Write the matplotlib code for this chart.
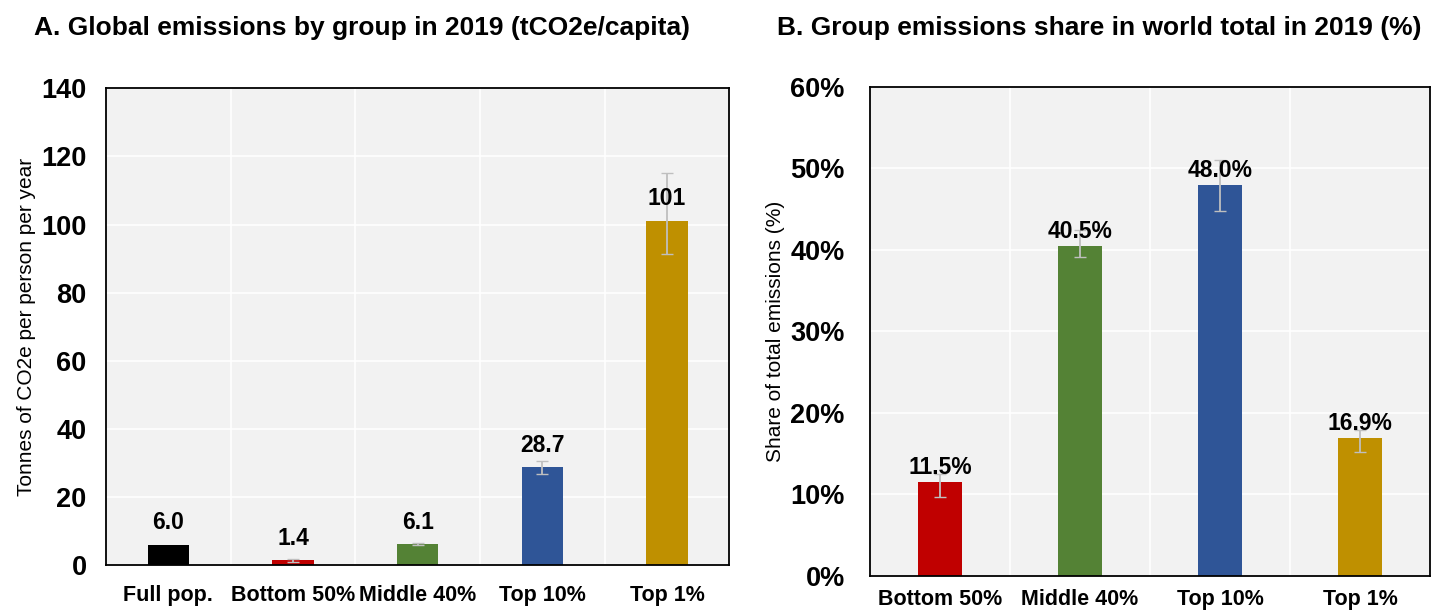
import matplotlib.pyplot as plt
import numpy as np

plt.rcParams['font.family'] = ['Liberation Sans', 'DejaVu Sans']

# Per-capita emissions (tCO2e/capita), 2019
groups_a = ['Full pop.', 'Bottom 50%', 'Middle 40%', 'Top 10%', 'Top 1%']
values_a = [6.0, 1.4, 6.1, 28.7, 101]
labels_a = ['6.0', '1.4', '6.1', '28.7', '101']
err_low_a = [0.0, 0.35, 0.2, 2.0, 9.7]
err_high_a = [0.0, 0.35, 0.45, 1.8, 14.2]

# Share of world total (%), 2019
groups_b = ['Bottom 50%', 'Middle 40%', 'Top 10%', 'Top 1%']
values_b = [11.5, 40.5, 48.0, 16.9]
labels_b = ['11.5%', '40.5%', '48.0%', '16.9%']
err_low_b = [1.9, 1.4, 3.2, 1.7]
err_high_b = [1.0, 2.0, 3.0, 1.0]

colors_a = ['#000000', '#C00000', '#548235', '#2F5597', '#BF9000']
colors_b = ['#C00000', '#548235', '#2F5597', '#BF9000']


def style_axes(ax, n):
    ax.set_facecolor('#F2F2F2')
    ax.set_xlim(-0.5, n - 0.5)
    ax.set_xticks(np.arange(n) + 0.5, minor=True)
    ax.grid(True, which='minor', axis='x', color='white', lw=1.2)
    ax.grid(True, which='major', axis='y', color='white', lw=1.2)
    ax.set_axisbelow(True)
    for s in ax.spines.values():
        s.set_color('black')
        s.set_linewidth(1.3)
    ax.tick_params(which='both', length=0)
    for t in ax.get_yticklabels() + ax.get_xticklabels():
        t.set_fontweight('bold')


fig = plt.figure(figsize=(14.33, 6.13), dpi=100)
ax1 = fig.add_axes([0.074, 0.078, 0.435, 0.778])
ax2 = fig.add_axes([0.607, 0.061, 0.391, 0.797])

# Panel A
x = np.arange(len(groups_a))
ax1.bar(x, values_a, width=0.33, color=colors_a, zorder=2)
ax1.errorbar(x[1:], values_a[1:], yerr=[err_low_a[1:], err_high_a[1:]],
             fmt='none', ecolor='#BFBFBF', elinewidth=1.3, capsize=4, zorder=3)
for xi, v, lab in zip(x, values_a, labels_a):
    ax1.text(xi, v + 3.2, lab, ha='center', va='bottom',
             fontsize=16.5, fontweight='bold', zorder=4)
ax1.set_ylim(0, 140)
ax1.set_yticks(range(0, 141, 20))
ax1.set_xticks(x)
ax1.set_xticklabels(groups_a)
ax1.tick_params(axis='y', labelsize=19.5, pad=14)
ax1.tick_params(axis='x', labelsize=15.5, pad=14)
ax1.set_ylabel('Tonnes of CO2e per person per year', fontsize=15, labelpad=4)
style_axes(ax1, len(groups_a))
fig.text(0.024, 0.955, 'A. Global emissions by group in 2019 (tCO2e/capita)',
         fontsize=19, fontweight='bold', ha='left', va='center')

# Panel B
x = np.arange(len(groups_b))
ax2.bar(x, values_b, width=0.31, color=colors_b, zorder=2)
ax2.errorbar(x, values_b, yerr=[err_low_b, err_high_b],
             fmt='none', ecolor='#BFBFBF', elinewidth=1.3, capsize=4, zorder=3)
for xi, v, lab in zip(x, values_b, labels_b):
    ax2.text(xi, v + 0.4, lab, ha='center', va='bottom',
             fontsize=16.5, fontweight='bold', zorder=4)
ax2.set_ylim(0, 60)
ax2.set_yticks(range(0, 61, 10))
ax2.set_yticklabels([f'{v}%' for v in range(0, 61, 10)])
ax2.set_xticks(x)
ax2.set_xticklabels(groups_b)
ax2.tick_params(axis='y', labelsize=19.5, pad=18)
ax2.tick_params(axis='x', labelsize=15.5, pad=10)
ax2.set_ylabel('Share of total emissions (%)', fontsize=15, labelpad=4)
style_axes(ax2, len(groups_b))
fig.text(0.542, 0.955, 'B. Group emissions share in world total in 2019 (%)',
         fontsize=19, fontweight='bold', ha='left', va='center')

fig.savefig('out.png', dpi=100)
